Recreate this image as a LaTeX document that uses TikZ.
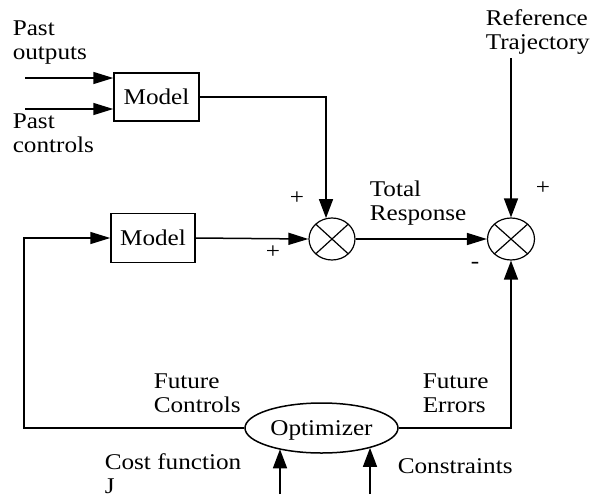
\documentclass[tikz,border=0pt]{standalone}
\usepackage{fontspec}
\setmainfont{Liberation Serif}[FakeStretch=1.12]
\usetikzlibrary{arrows.meta,shapes.geometric}

\begin{document}
\begin{tikzpicture}[x=1pt,y=-1pt,line width=1.5pt,
  every node/.style={font=\fontsize{22.5}{23.5}\selectfont},
  % anchored on the baseline of the last line
  lbl/.style={anchor=base west,inner sep=0pt,align=left},
  sign/.style={inner sep=0pt,anchor=center},
  block/.style={draw,rectangle,minimum width=85pt,minimum height=48pt,inner sep=0pt},
  sumnode/.style={draw,ellipse,line width=1.2pt,minimum width=46pt,minimum height=42pt,inner sep=0pt,
    path picture={\draw[line width=1.2pt]
      (path picture bounding box.north west) -- (path picture bounding box.south east)
      (path picture bounding box.north east) -- (path picture bounding box.south west);}},
  harrow/.style={-{Triangle[length=20pt,width=12pt]}},
  varrow/.style={-{Triangle[length=19pt,width=14pt]}},
]
\useasboundingbox (0,0) rectangle (592,499);

% blocks
\node[block] (m1) at (156.5,97) {Model};
\node[block,minimum width=84pt,minimum height=49pt] (m2) at (153,238) {Model};
\node[sumnode] (s1) at (332,239) {};
\node[sumnode,minimum width=47pt] (s2) at (511,239) {};
\node[draw,ellipse,minimum width=153pt,minimum height=50pt,inner sep=0pt,text depth=0pt] (opt) at (321.5,428) {Optimizer};

% free ends
\coordinate (po) at (25,78);
\coordinate (pc) at (25,109);
\coordinate (rt) at (511,58);
\coordinate (fb) at (24,428);
\coordinate (cf) at (280,494);
\coordinate (cs) at (370,494);

% connectors
\draw[harrow] (po) -- (po -| m1.west);
\draw[harrow] (pc) -- (pc -| m1.west);
\draw[varrow] (m1.east) -| (s1.106);
\draw[harrow] (m2.east) -- (s1.west);
\draw[harrow] (s1.east) -- (s2.west);
\draw[varrow] (rt) -- (s2.north);
\draw[varrow] (opt.east) -| (s2.south);
\draw[harrow] (opt.west) -- (fb) |- (m2.west);
\draw[varrow] (cf) -- (cf |- opt.206.8);
\draw[varrow] (cs) -- (cs |- opt.338.3);

% labels
\node[lbl] (lpo) at (12,59) {Past\\outputs};
\node[lbl] (lpc) at (12,152) {Past\\controls};
\node[lbl] (lrt) at (485,49) {Reference\\Trajectory};
\node[lbl] (ltr) at (369,220) {Total\\Response};
\node[lbl] (lfc) at (153,412) {Future\\Controls};
\node[lbl] (lfe) at (422,412) {Future\\Errors};
\node[lbl] (lcf) at (104,493) {Cost function\\J};
\node[lbl] (lcs) at (397,473) {Constraints};

% signs at the summing junctions
\node[sign] (p1) at (297,198) {+};
\node[sign] (p2) at (273,252) {+};
\node[sign] (p3) at (543,188) {+};
\node[sign] (n1) at (475,265) {-};
\end{tikzpicture}
\end{document}
